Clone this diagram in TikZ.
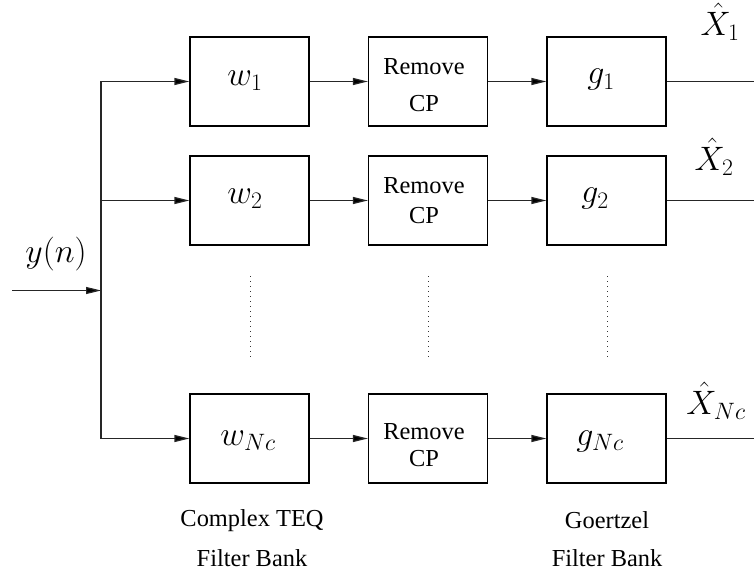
\documentclass[tikz,border=0pt]{standalone}
\usepackage{fix-cm}
\usepackage{fontspec}
\setmainfont{Liberation Serif}
\usetikzlibrary{arrows.meta}

\tikzset{
  blk/.style={draw=black, line width=1.2bp, minimum width=119bp, minimum height=89bp, inner sep=0pt},
  wire/.style={draw=black!85, line width=1.2bp},
  arr/.style={wire, -{Triangle[length=15bp,width=7bp,fill=black]}},
  dotsline/.style={draw=black!80, line width=1bp, dash pattern=on 1bp off 4bp},
  mathlbl/.style={inner sep=0pt, font=\fontsize{34}{40}\selectfont},
  txt/.style={inner sep=0pt, font=\fontsize{24.5}{29}\selectfont},
}

\begin{document}
\begin{tikzpicture}[x=1bp, y=-1bp]
  \useasboundingbox (0,0) rectangle (754,574);

  % filter boxes: three columns, three rows
  \node[blk] (w1) at (249.5,81.5) {};
  \node[blk] (w2) at (249.5,200.5) {};
  \node[blk] (w3) at (249.5,438.5) {};
  \node[blk] (r1) at (428,81.5) {};
  \node[blk] (r2) at (428,200.5) {};
  \node[blk] (r3) at (428,438.5) {};
  \node[blk] (g1) at (606.5,81.5) {};
  \node[blk] (g2) at (606.5,200.5) {};
  \node[blk] (g3) at (606.5,438.5) {};

  % box contents
  \node[mathlbl] (tw1) at (245,81) {$w_1$};
  \node[mathlbl] (tw2) at (245,199) {$w_2$};
  \node[mathlbl] (tw3) at (248,441) {$w_{Nc}$};
  \node[mathlbl] (tg1) at (601,80) {$g_1$};
  \node[mathlbl] (tg2) at (595,199) {$g_2$};
  \node[mathlbl] (tg3) at (600,441) {$g_{Nc}$};

  \node[txt] (rm1) at (424,67) {Remove};
  \node[txt] (cp1) at (424,104) {CP};
  \node[txt] (rm2) at (424,186) {Remove};
  \node[txt] (cp2) at (424,216) {CP};
  \node[txt] (rm3) at (424,432) {Remove};
  \node[txt] (cp3) at (424,459) {CP};

  % input and distribution bus
  \coordinate (in) at (12,290.5);
  \coordinate (bt) at (101,81.5);
  \coordinate (bm) at (101,200.5);
  \coordinate (bb) at (101,438.5);
  \coordinate (bj) at (101,290.5);
  \draw[wire] (bt) -- (bb);
  \draw[arr] (in) -- (bj);
  \node[mathlbl] (yn) at (56,254) {$y(n)$};

  \draw[arr] (bt) -- (w1.west);
  \draw[arr] (bm) -- (w2.west);
  \draw[arr] (bb) -- (w3.west);

  \draw[arr] (w1.east) -- (r1.west);
  \draw[arr] (w2.east) -- (r2.west);
  \draw[arr] (w3.east) -- (r3.west);
  \draw[arr] (r1.east) -- (g1.west);
  \draw[arr] (r2.east) -- (g2.west);
  \draw[arr] (r3.east) -- (g3.west);

  % outputs
  \coordinate (o1) at (754,81.5);
  \coordinate (o2) at (754,200.5);
  \coordinate (o3) at (754,438.5);
  \draw[wire] (g1.east) -- (o1);
  \draw[wire] (g2.east) -- (o2);
  \draw[wire] (g3.east) -- (o3);
  \node[mathlbl] (x1) at (720,22) {$\hat{X}_1$};
  \node[mathlbl] (x2) at (714,157) {$\hat{X}_2$};
  \node[mathlbl] (x3) at (716,401) {$\hat{X}_{Nc}$};

  % elided rows
  \coordinate (d1a) at (250,276);
  \coordinate (d1b) at (250,361);
  \coordinate (d2a) at (428,276);
  \coordinate (d2b) at (428,361);
  \coordinate (d3a) at (607,276);
  \coordinate (d3b) at (607,361);
  \draw[dotsline] (d1a) -- (d1b);
  \draw[dotsline] (d2a) -- (d2b);
  \draw[dotsline] (d3a) -- (d3b);

  % bank captions
  \node[txt] (c1) at (252,521) {Complex TEQ};
  \node[txt] (c2) at (252,558) {Filter Bank};
  \node[txt] (c3) at (607,520) {Goertzel};
  \node[txt] (c4) at (607,558) {Filter Bank};
\end{tikzpicture}
\end{document}
